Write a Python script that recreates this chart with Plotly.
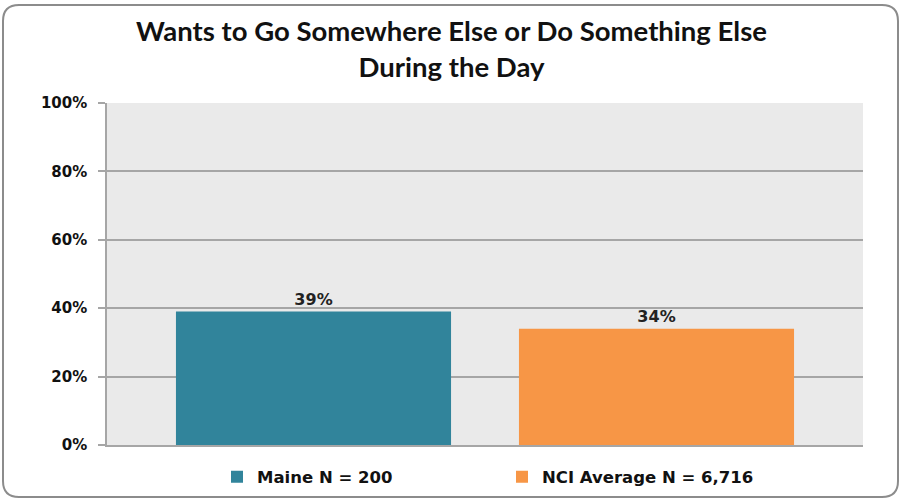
import plotly.graph_objects as go

# Survey result: share who want to go somewhere else / do something else during the day
series_names = ["Maine N = 200", "NCI Average N = 6,716"]
values = [39, 34]
colors = ["#31849B", "#F79646"]
y_ticks = [0, 20, 40, 60, 80, 100]
y_tick_labels = [f"{t}%" for t in y_ticks]
title_lines = ["Wants to Go Somewhere Else or Do Something Else", "During the Day"]

W, H = 903, 502
ML, MR, MT, MB = 107, 40, 103, 57
pw, ph = W - ML - MR, H - MT - MB

fig = go.Figure()
for name, v, c in zip(series_names, values, colors):
    fig.add_trace(go.Bar(
        x=[""], y=[v], name=name, marker=dict(color=c, line=dict(width=0)),
        text=[f"{v}%"], textposition="outside", cliponaxis=False,
        textfont=dict(family="DejaVu Sans", size=16, color="#222222", weight="bold"),
    ))

# rounded outer frame in paper coordinates
def px_x(x):
    return (x - ML) / pw

def px_y(y):
    return 1 - (y - MT) / ph

x0, x1, y0, y1, r = 3, 898, 5, 497, 16
path = (
    f"M {px_x(x0 + r)} {px_y(y0)} L {px_x(x1 - r)} {px_y(y0)} "
    f"Q {px_x(x1)} {px_y(y0)} {px_x(x1)} {px_y(y0 + r)} "
    f"L {px_x(x1)} {px_y(y1 - r)} Q {px_x(x1)} {px_y(y1)} {px_x(x1 - r)} {px_y(y1)} "
    f"L {px_x(x0 + r)} {px_y(y1)} Q {px_x(x0)} {px_y(y1)} {px_x(x0)} {px_y(y1 - r)} "
    f"L {px_x(x0)} {px_y(y0 + r)} Q {px_x(x0)} {px_y(y0)} {px_x(x0 + r)} {px_y(y0)} Z"
)

fig.update_layout(
    width=W, height=H,
    margin=dict(l=ML, r=MR, t=MT, b=MB, autoexpand=False),
    paper_bgcolor="white", plot_bgcolor="#EAEAEA",
    barmode="group", bargap=0.0926, bargroupgap=0.198,
    title=dict(
        text="<b>" + "<br>".join(title_lines) + "</b>",
        x=0.5, xanchor="center", y=0.918, yanchor="middle", yref="container",
        font=dict(family="Lato", size=27.5, color="#111111"),
    ),
    showlegend=True,
    legend=dict(
        orientation="h", x=px_x(217), xanchor="left", y=25 / H, yanchor="middle",
        yref="container",
        font=dict(family="DejaVu Sans", size=16.5, color="#111111", weight="bold"),
        itemwidth=30, tracegroupgap=0, traceorder="normal",
        entrywidthmode="pixels", entrywidth=240,
    ),
    xaxis=dict(
        showticklabels=False, showgrid=False, showline=True,
        linecolor="#A6A6A6", linewidth=2, zeroline=False,
    ),
    yaxis=dict(
        range=[0, 100], tickvals=y_ticks, ticktext=y_tick_labels,
        showgrid=True, gridcolor="#A6A6A6", gridwidth=1.5,
        showline=True, linecolor="#A6A6A6", linewidth=1.5,
        ticks="outside", ticklen=7, tickcolor="#A6A6A6", tickwidth=1.5,
        ticklabelstandoff=8,
        tickfont=dict(family="DejaVu Sans", size=15, color="#111111", weight="bold"),
        zeroline=False,
    ),
    shapes=[dict(type="path", xref="paper", yref="paper", path=path,
                 line=dict(color="#8C8C8C", width=2), fillcolor="rgba(0,0,0,0)", layer="below")],
)

fig.write_html("out.html")
